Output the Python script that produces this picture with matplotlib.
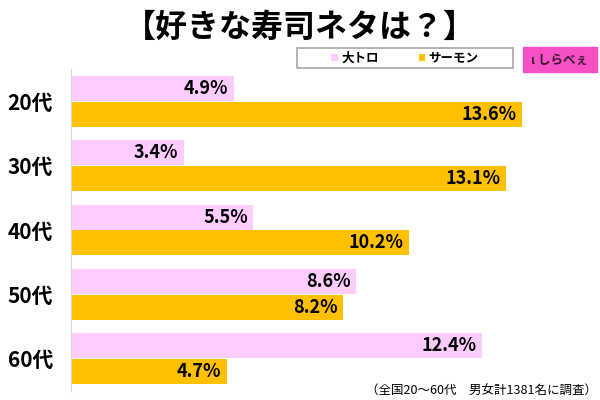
import matplotlib.pyplot as plt
from matplotlib.patches import Rectangle

plt.rcParams['font.family'] = ['Noto Sans CJK JP', 'DejaVu Sans']

ages = ["20代", "30代", "40代", "50代", "60代"]
otoro = [4.9, 3.4, 5.5, 8.6, 12.4]
salmon = [13.6, 13.1, 10.2, 8.2, 4.7]
series_names = ["大トロ", "サーモン"]

pink = "#FFCCFF"
gold = "#FFC000"

fig = plt.figure(figsize=(6, 4), dpi=100)
ax = fig.add_axes([0.1183, 0.0235, 0.86, 0.803])

y = list(range(len(ages)))
h = 0.39
b1 = ax.barh([i - 0.2 for i in y], otoro, height=h, color=pink, label=series_names[0])
b2 = ax.barh([i + 0.2 for i in y], salmon, height=h, color=gold, label=series_names[1])

for bars, vals in ((b1, otoro), (b2, salmon)):
    for rect, v in zip(bars, vals):
        ax.annotate(f"{v}%", (rect.get_width(), rect.get_y() + rect.get_height() / 2),
                    xytext=(-4, 0), textcoords="offset points",
                    ha="right", va="center", fontsize=13, fontweight="bold")

ax.set_xlim(0, 15.55)
ax.set_ylim(4.5, -0.5)
ax.set_yticks(y)
ax.set_yticklabels(ages, fontsize=15, fontweight="bold")
ax.tick_params(axis="y", length=0, pad=13)
ax.set_xticks([])
for s in ("top", "right", "bottom"):
    ax.spines[s].set_visible(False)
ax.spines["left"].set_color("#D9D9D9")

# title
fig.text(0.5, 0.93, "【好きな寿司ネタは？】", ha="center", va="center",
         fontsize=23, fontweight="bold")

# legend box
fig.patches.append(Rectangle((0.495, 0.83), 0.36, 0.05, transform=fig.transFigure,
                             fill=False, edgecolor="#A6A6A6", lw=1.2))
fig.legend(handles=[b1, b2], loc="center", bbox_to_anchor=(0.675, 0.855),
           ncol=2, frameon=False, handlelength=0.5, handleheight=0.5,
           handletextpad=0.3, columnspacing=3.2,
           prop={"size": 9, "weight": "bold"})

# logo
fig.patches.append(Rectangle((0.872, 0.82), 0.123, 0.063, transform=fig.transFigure,
                             color="#F74FC4"))
fig.text(0.933, 0.848, "ι しらべぇ", ha="center", va="center", fontsize=9,
         fontweight="bold", color="#3A1A30")

# footnote
fig.text(0.995, 0.022, "（全国20～60代　男女計1381名に調査）", ha="right", va="center",
         fontsize=9)

fig.savefig("out.png", dpi=100)
